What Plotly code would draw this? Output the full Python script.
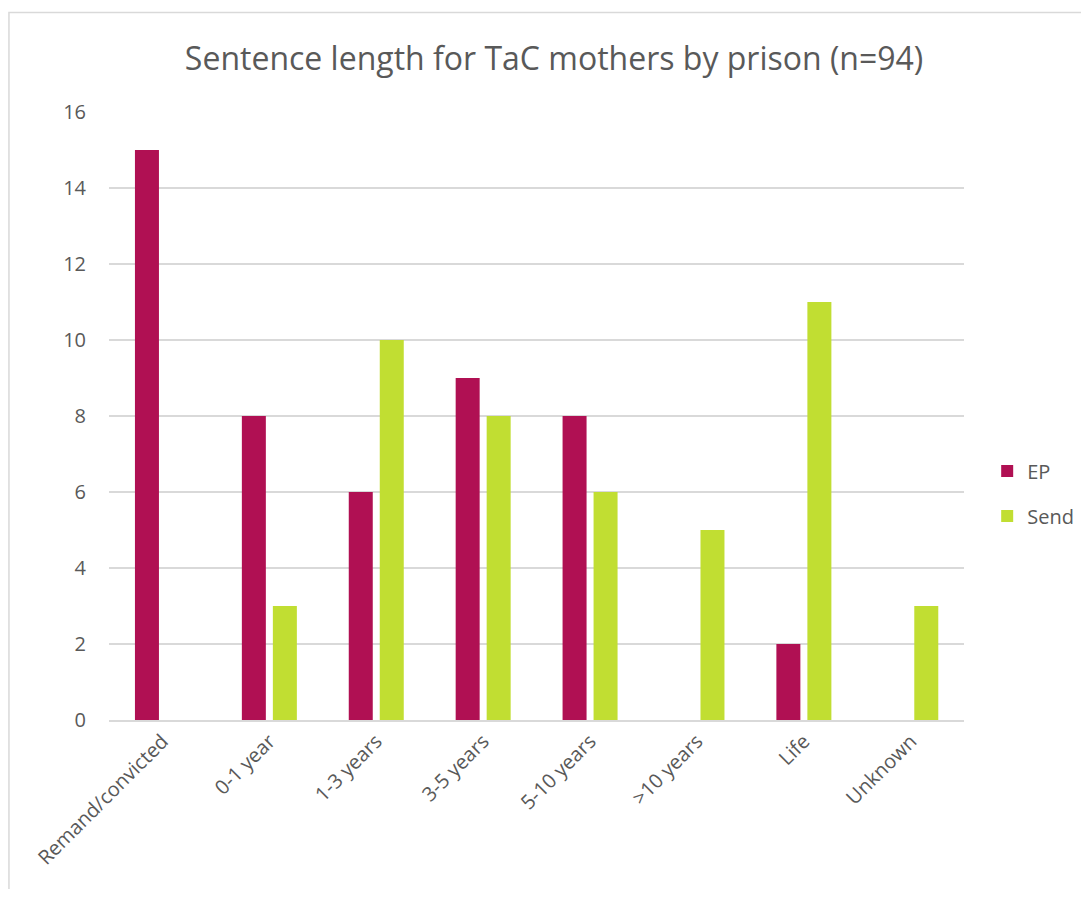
import plotly.graph_objects as go

categories = ["Remand/convicted", "0-1 year", "1-3 years", "3-5 years",
              "5-10 years", ">10 years", "Life", "Unknown"]
ep_values = [15, 8, 6, 9, 8, 0, 2, 0]
send_values = [0, 3, 10, 8, 6, 5, 11, 3]
y_ticks = [0, 2, 4, 6, 8, 10, 12, 14, 16]

EP_COLOR = "#B01053"
SEND_COLOR = "#C1DE32"
TEXT = "#595959"
GRID = "#D9D9D9"
FONT = "Open Sans, Noto Sans, sans-serif"

fig = go.Figure()
fig.add_trace(go.Bar(x=categories, y=ep_values, name="EP",
                     marker=dict(color=EP_COLOR, line=dict(width=0)),
                     legendgroup="a"))
fig.add_trace(go.Bar(x=categories, y=send_values, name="Send",
                     marker=dict(color=SEND_COLOR, line=dict(width=0)),
                     legendgroup="b"))

# page body has an 8px margin, so the figure is sized to fit inside the window
OFF = 8
W, H = 1073, 881
L = 109 - OFF
T = 112 - OFF
R = 2
B = H - (720 - OFF)
pw = W - L - R
ph = H - T - B


def px_x(sx):
    return (sx - OFF - L) / pw


def px_y(sy):
    return (H - B - (sy - OFF)) / ph


fig.update_layout(
    width=W, height=H,
    margin=dict(l=L, r=R, t=T, b=B, pad=0),
    paper_bgcolor="white", plot_bgcolor="white",
    barmode="group", bargap=0.42, bargroupgap=0.226,
    font=dict(family=FONT, color=TEXT, size=20),
    title=dict(text="Sentence length for TaC mothers by prison (n=94)",
               x=px_x(555), xanchor="center", xref="paper",
               y=1 - (59 - OFF) / H, yanchor="middle",
               font=dict(size=32, color=TEXT, family=FONT)),
    xaxis=dict(domain=[0, px_x(966)], tickangle=-45, showgrid=False,
               showline=True, linecolor=GRID, linewidth=1.5, ticks="",
               tickfont=dict(size=20, color=TEXT)),
    yaxis=dict(range=[0, 16], tickvals=y_ticks, showgrid=True,
               gridcolor=GRID, gridwidth=1.5, zeroline=False,
               showline=False, ticks="outside", ticklen=18,
               tickcolor="rgba(0,0,0,0)",
               tickfont=dict(size=20, color=TEXT)),
    legend=dict(x=px_x(989), xanchor="left",
                y=px_y(493.5), yanchor="middle",
                traceorder="grouped", tracegroupgap=16,
                font=dict(size=20, color=TEXT),
                itemwidth=30, bgcolor="rgba(0,0,0,0)"),
    shapes=[dict(type="rect", xref="paper", yref="paper",
                 x0=px_x(8.75), x1=px_x(1140),
                 y0=px_y(960), y1=px_y(12.5),
                 line=dict(color=GRID, width=1.5), layer="below")],
)

fig.write_html("out.html")
